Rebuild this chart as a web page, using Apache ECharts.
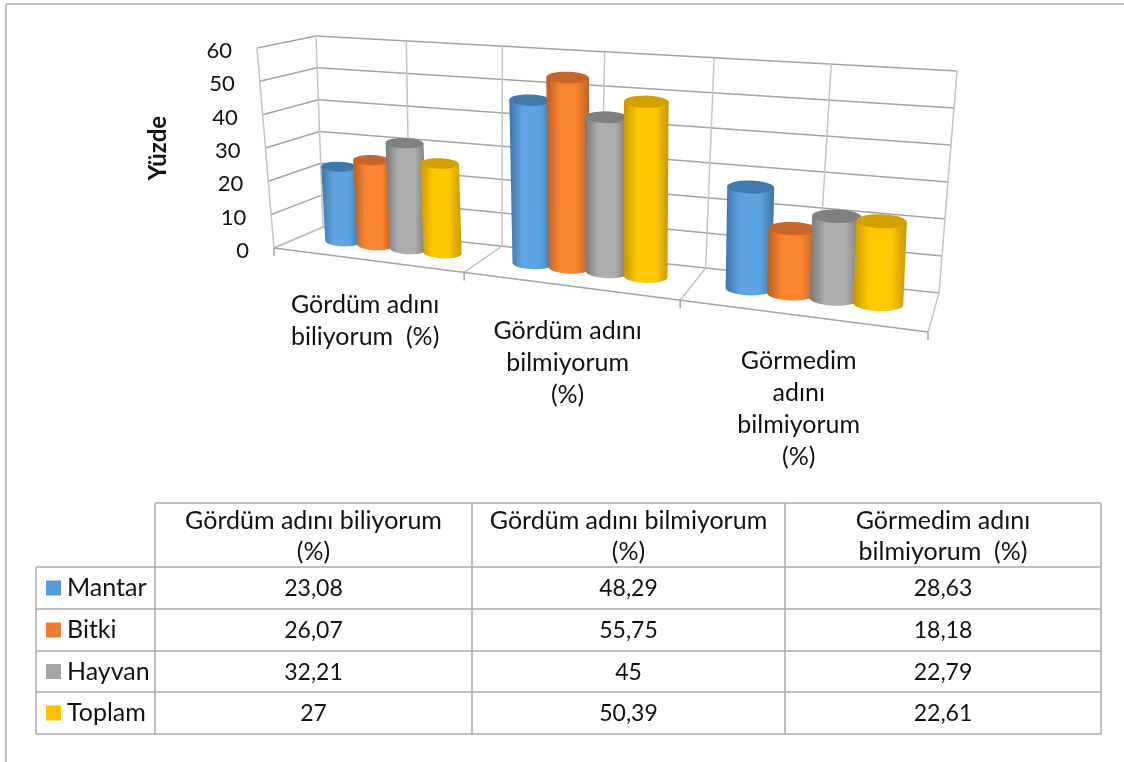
<!DOCTYPE html>
<html>
<head>
<meta charset="utf-8">
<title>Yüzde</title>
<style>
    html, body { margin: 0; padding: 0; background: #fff; }
    #main { width: 1124px; height: 762px; }
</style>
</head>
<body>
<div id="main"></div>
<script src="https://cdn.jsdelivr.net/npm/echarts@6/dist/echarts.min.js"></script>
<script>
var seriesNames = ['Mantar', 'Bitki', 'Hayvan', 'Toplam']
var mantar = [23.08, 48.29, 28.63]
var bitki = [26.07, 55.75, 18.18]
var hayvan = [32.21, 45, 22.79]
var toplam = [27, 50.39, 22.61]
var yTicks = [0, 10, 20, 30, 40, 50, 60]

// chart labels and table headers break differently
var categories = ['Gördüm adını\nbiliyorum  (%)', 'Gördüm adını\nbilmiyorum\n(%)', 'Görmedim\nadını\nbilmiyorum\n(%)']
var tableHeaders = ['Gördüm adını biliyorum\n(%)', 'Gördüm adını bilmiyorum\n(%)', 'Görmedim adını\nbilmiyorum  (%)']

var seriesValues = [mantar, bitki, hayvan, toplam]
var keyColors = ['#5B9BD5', '#ED7D31', '#A5A5A5', '#FFC000']
var edgeColors = ['#3f74a6', '#b65f22', '#777777', '#c99700']
var midColors = ['#5ea4e2', '#fb8431', '#adadad', '#ffc800']
var capColors = ['#3f78ab', '#c8652a', '#808080', '#d2a000']

var chart = echarts.init(document.getElementById('main'))
var FONT = 'Lato'
var TEXT = '#111111'

// plain grid that carries the scales, projected onto the slanted box afterwards
var GRID = { left: 300, top: 48, width: 600, height: 200 }

// corners of the box: back left, back right, front right, front left
var floorCorners = [[323, 227], [939, 293], [928, 332], [274, 248]]
var topCorners = [[316, 36], [957, 71], [930, 102], [257, 48]]
var PERSPECTIVE = 1.22

function mix(a, b, t) {
    return [a[0] + (b[0] - a[0]) * t, a[1] + (b[1] - a[1]) * t]
}

function onPlane(c, t, d) {
    return mix(mix(c[0], c[1], t), mix(c[3], c[2], t), d)
}

// u along the categories, d from back wall to front, v up the value axis
function project(u, d, v) {
    var t = u / (u + PERSPECTIVE * (1 - u))
    return mix(onPlane(floorCorners, t, d), onPlane(topCorners, t, d), v)
}

function toU(px) { return (px - GRID.left) / GRID.width }
function toV(py) { return (GRID.top + GRID.height - py) / GRID.height }

function line(a, b, color, width) {
    return {
        type: 'line',
        shape: { x1: a[0], y1: a[1], x2: b[0], y2: b[1] },
        style: { stroke: color, lineWidth: width }
    }
}

var BAR_DEPTH = 0.45
var BAR_STEP = 0.18  // distance between neighbours, share of one category
var BAR_WIDTH = 0.2  // a bit more than the step, the cylinders touch
var BAR_SHIFT = 2
var BAR_TILT = 0.3   // caps are flatter than the floor slope

function ellipsePoints(c, ax, ry, from, to) {
    var pts = []
    for (var i = 0; i <= 24; i++) {
        var t = from + (to - from) * i / 24
        pts.push([c[0] + ax[0] * Math.cos(t), c[1] + ax[1] * Math.cos(t) + ry * Math.sin(t)])
    }
    return pts
}

function renderCylinder(seriesIndex) {
    return function (params, api) {
        var pos = api.coord([api.value(0), api.value(1)])
        var base = api.coord([api.value(0), 0])
        var band = api.size([1, 0])[0]
        var cx = base[0] + BAR_SHIFT + (seriesIndex - 1.5) * BAR_STEP * band
        var half = BAR_WIDTH * band / 2
        var u = toU(cx), du = half / GRID.width, v = toV(pos[1]) * 0.985

        var b0 = project(u, BAR_DEPTH, 0)
        var bl = project(u - du, BAR_DEPTH, 0), br = project(u + du, BAR_DEPTH, 0)
        var t0 = project(u, BAR_DEPTH, v)
        var tl = project(u - du, BAR_DEPTH, v), tr = project(u + du, BAR_DEPTH, v)
        var axB = [(br[0] - bl[0]) / 2, (br[1] - bl[1]) / 2 * BAR_TILT]
        var axT = [(tr[0] - tl[0]) / 2, (tr[1] - tl[1]) / 2 * BAR_TILT]
        var ry = axB[0] * 0.28

        // body: down the left side, round the bottom, up the right side
        var body = ellipsePoints(b0, axB, ry, Math.PI, 0)
        body.push([t0[0] + axT[0], t0[1] + axT[1]])
        body.push([t0[0] - axT[0], t0[1] - axT[1]])

        return {
            type: 'group',
            children: [{
                type: 'polygon',
                shape: { points: body },
                style: {
                    fill: new echarts.graphic.LinearGradient(0, 0, 1, 0, [
                        { offset: 0, color: edgeColors[seriesIndex] },
                        { offset: 0.3, color: midColors[seriesIndex] },
                        { offset: 0.7, color: midColors[seriesIndex] },
                        { offset: 1, color: edgeColors[seriesIndex] }
                    ])
                }
            }, {
                type: 'polygon',
                shape: { points: ellipsePoints(t0, axT, ry, 0, Math.PI * 2) },
                style: { fill: capColors[seriesIndex] }
            }]
        }
    }
}

// walls, floor and the slanted value labels
function renderBox(params, api) {
    var children = []
    var colH = '#a3a3a3', colV = '#c4c4c4'
    for (var i = 0; i < yTicks.length; i++) {
        var pt = api.coord([0, yTicks[i]])
        var v = toV(pt[1])
        var bl = project(0, 0, v), br = project(1, 0, v), fl = project(0, 1, v)
        children.push(line(fl, bl, colH, 1.5))
        children.push(line(bl, br, colH, 1.5))
        children.push({
            type: 'text',
            style: {
                x: fl[0] - 25, y: fl[1] + 3, text: String(yTicks[i]),
                align: 'right', verticalAlign: 'middle',
                font: '22px ' + FONT, fill: TEXT
            }
        })
    }
    for (var k = 0; k <= 6; k++) {
        children.push(line(project(k / 6, 0, 0), project(k / 6, 0, 1), colV, 1.5))
    }
    children.push(line(project(0, 1, 0), project(0, 1, 1), colV, 1.5))
    for (var m = 0; m <= 3; m++) {
        var front = project(m / 3, 1, 0)
        children.push(line(project(m / 3, 0, 0), front, colV, 1.5))
        children.push(line(front, [front[0], front[1] + 8], colH, 1.5))
    }
    // front edge of the floor
    children.push(line(project(0, 1, 0), project(1, 1, 0), colH, 1.5))
    for (var c = 0; c < categories.length; c++) {
        var foot = project((c + 0.5) / 3, 1, 0)
        children.push({
            type: 'text',
            style: {
                x: foot[0] - 1, y: foot[1] + 29, text: categories[c],
                align: 'center', verticalAlign: 'top', lineHeight: 32,
                font: '25px ' + FONT, fill: TEXT
            }
        })
    }
    return { type: 'group', children: children }
}

var series = [{
    type: 'custom',
    silent: true,
    data: [[0, 0]],
    renderItem: renderBox
}]
for (var s = 0; s < seriesNames.length; s++) {
    series.push({
        type: 'custom',
        name: seriesNames[s],
        silent: true,
        encode: { x: 0, y: 1 },
        data: seriesValues[s].map(function (val, idx) { return [idx, val] }),
        renderItem: renderCylinder(s)
    })
}

// data table under the chart
var colX = [36, 155, 472, 785, 1101]
var rowY = [503, 567, 609, 651, 692, 734]
var tableEls = []
var tableLine = '#a8a8a8'

function formatValue(n) { return String(n).replace('.', ',') }

function addLine(x1, y1, x2, y2) {
    tableEls.push({
        type: 'line',
        shape: { x1: x1, y1: y1, x2: x2, y2: y2 },
        style: { stroke: tableLine, lineWidth: 1.5 }
    })
}
function addText(x, y, text, align, size) {
    tableEls.push({
        type: 'text',
        style: {
            x: x, y: y, text: text, align: align, verticalAlign: 'middle',
            lineHeight: 31, font: size + 'px ' + FONT, fill: TEXT
        }
    })
}

// the picture's own frame: only top and left are inside the crop
addLine(6, 4, 1124, 4)
addLine(6, 4, 6, 762)

for (var r = 1; r < rowY.length; r++) addLine(colX[0], rowY[r], colX[4], rowY[r])
addLine(colX[1], rowY[0], colX[4], rowY[0])
addLine(colX[0], rowY[1], colX[0], rowY[5])
for (var q = 1; q < colX.length; q++) addLine(colX[q], rowY[0], colX[q], rowY[5])

for (var hc = 0; hc < tableHeaders.length; hc++) {
    addText((colX[hc + 1] + colX[hc + 2]) / 2, (rowY[0] + rowY[1]) / 2 + 1, tableHeaders[hc], 'center', 25)
}
for (var row = 0; row < seriesNames.length; row++) {
    var midY = (rowY[row + 1] + rowY[row + 2]) / 2
    tableEls.push({
        type: 'rect',
        shape: { x: 46, y: midY - 7.5, width: 15, height: 15 },
        style: { fill: keyColors[row] }
    })
    addText(67, midY, seriesNames[row], 'left', 25)
    for (var col = 0; col < 3; col++) {
        addText((colX[col + 1] + colX[col + 2]) / 2, midY + 1, formatValue(seriesValues[row][col]), 'center', 23)
    }
}

var option = {
    animation: false,
    backgroundColor: '#ffffff',
    grid: GRID,
    xAxis: {
        type: 'category',
        data: categories,
        show: false
    },
    yAxis: {
        type: 'value',
        min: 0,
        max: 60,
        interval: 10,
        name: 'Yüzde',
        nameLocation: 'middle',
        nameRotate: 90,
        nameGap: 130,
        nameTextStyle: { fontFamily: FONT, fontWeight: 'bold', fontSize: 24, color: TEXT },
        axisLine: { show: false },
        axisTick: { show: false },
        axisLabel: { show: false },
        splitLine: { show: false }
    },
    graphic: { elements: tableEls },
    series: series
}

chart.setOption(option)
window.addEventListener('resize', chart.resize)
</script>
</body>
</html>
